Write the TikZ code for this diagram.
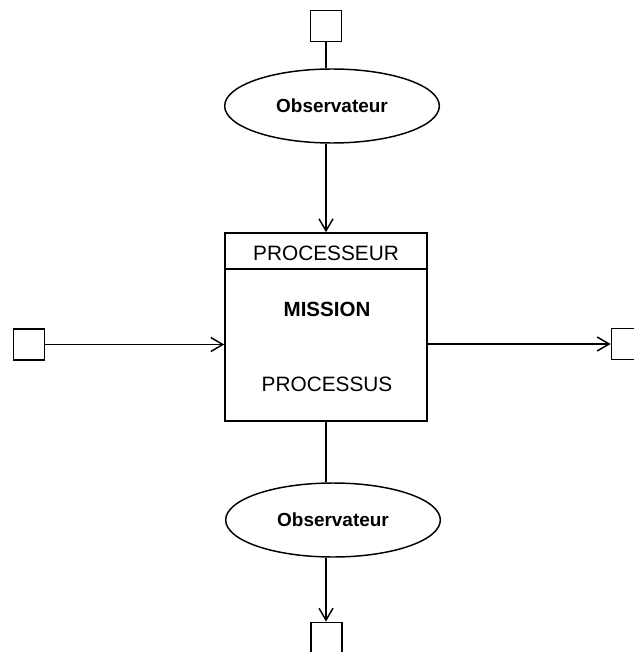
\documentclass[tikz,border=0pt]{standalone}
\usepackage{fontspec}
\setmainfont{Liberation Sans}
\usetikzlibrary{arrows.meta,shapes.geometric}
\begin{document}
\begin{tikzpicture}[x=0.75pt,y=-0.75pt,
  line width=1.1pt,
  sq/.style={draw,rectangle,minimum width=23.5pt,minimum height=23.5pt,inner sep=0pt},
  obs/.style={draw,ellipse,minimum width=161pt,minimum height=55.5pt,inner sep=0pt,font=\fontsize{14.2pt}{16pt}\selectfont\bfseries},
  procbox/.style={draw,rectangle,minimum width=151.5pt,minimum height=141pt,inner sep=0pt},
  lbl/.style={inner sep=0pt,font=\fontsize{15.6pt}{18pt}\selectfont},
  arr/.style={-{Straight Barb[length=9pt,width=10.5pt]}}
]
\useasboundingbox (0,0) rectangle (633,652);
\fill[white] (0,0) rectangle (633,652);
\node[sq] (topsq) at (326,26) {};
\node[obs] (topobs) at (332,106) {Observateur};
\node[procbox] (box) at (326,327) {};
\coordinate (hdl) at (225,269);
\coordinate (hdr) at (427,269);
\draw (box.west |- hdl) -- (box.east |- hdr);
\node[lbl] (proc) at (326,253) {PROCESSEUR};
\node[lbl,font=\fontsize{15.4pt}{18pt}\selectfont\bfseries] (mission) at (327,309) {MISSION};
\node[lbl] (processus) at (327,384) {PROCESSUS};
\node[sq] (lsq) at (29,344.5) {};
\node[sq] (rsq) at (627,344) {};
\node[obs] (botobs) at (333,520) {Observateur};
\node[sq] (botsq) at (326.5,638) {};
% connectors
\draw (topsq.south) -- (topsq.south |- topobs.north);
\draw[arr] (topsq.south |- topobs.south) -- (box.north);
\draw[arr] (lsq.east) -- (lsq.east -| box.west);
\draw[arr] (box.east |- rsq.west) -- (rsq.west);
\draw (box.south) -- (box.south |- botobs.north);
\draw[arr] (box.south |- botobs.south) -- (botsq.north -| box.south);
\end{tikzpicture}
\end{document}
